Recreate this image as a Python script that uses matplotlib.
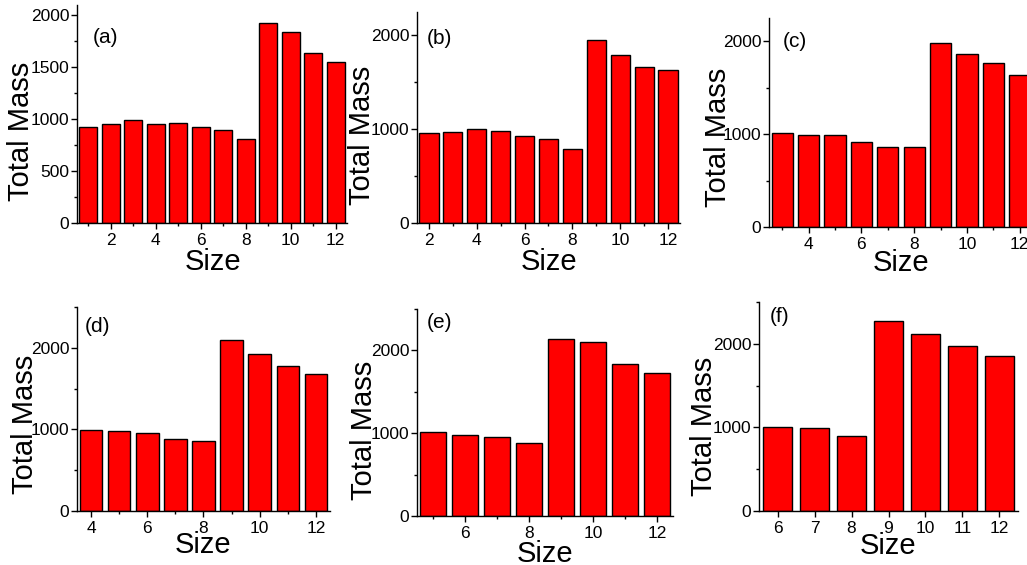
import matplotlib.pyplot as plt
from matplotlib.ticker import MultipleLocator

plt.rcParams['font.family'] = ['Liberation Sans', 'DejaVu Sans']

# bar heights
labels = ['(a)', '(b)', '(c)', '(d)', '(e)', '(f)']
sizes_a = [1, 2, 3, 4, 5, 6, 7, 8, 9, 10, 11, 12]
mass_a = [923, 955, 994, 952, 965, 926, 900, 810, 1929, 1836, 1640, 1553]
sizes_b = [2, 3, 4, 5, 6, 7, 8, 9, 10, 11, 12]
mass_b = [956, 970, 998, 980, 924, 899, 793, 1954, 1795, 1664, 1632]
sizes_c = [3, 4, 5, 6, 7, 8, 9, 10, 11, 12]
mass_c = [1009, 995, 987, 916, 862, 858, 1986, 1860, 1763, 1641]
sizes_d = [4, 5, 6, 7, 8, 9, 10, 11, 12]
mass_d = [994, 986, 953, 879, 863, 2094, 1926, 1779, 1677]
sizes_e = [5, 6, 7, 8, 9, 10, 11, 12]
mass_e = [1012, 984, 952, 876, 2137, 2096, 1831, 1723]
sizes_f = [6, 7, 8, 9, 10, 11, 12]
mass_f = [1010, 998, 903, 2270, 2119, 1968, 1849]

sizes = [sizes_a, sizes_b, sizes_c, sizes_d, sizes_e, sizes_f]
masses = [mass_a, mass_b, mass_c, mass_d, mass_e, mass_f]

# layout: axes rect (pixels l, r, top, bottom), y max, y major step, x major step,
# label positions (axes fraction)
W, H = 1027, 565
rects = [(77, 347, 5, 223), (417, 680, 12, 223), (769, 1033, 18, 227),
         (77, 330, 307, 511), (417, 673, 309, 516), (759, 1018, 302, 511)]
ymax = [2100, 2250, 2250, 2500, 2500, 2500]
ystep = [500, 1000, 1000, 1000, 1000, 1000]
xstep = [2, 2, 2, 2, 2, 1]
tag_pos = [(0.059, 0.894), (0.038, 0.92), (0.053, 0.933),
           (0.032, 0.95), (0.039, 0.98), (0.042, 0.976)]
ylab_pos = [(-0.207, 0.422), (-0.209, 0.417), (-0.193, 0.431),
            (-0.206, 0.426), (-0.207, 0.415), (-0.212, 0.407)]
xlab_pos = [(0.504, -0.215), (0.502, -0.223), (0.5, -0.21),
            (0.498, -0.206), (0.5, -0.222), (0.498, -0.206)]

fig = plt.figure(figsize=(W / 100, H / 100), dpi=100)

for i in range(6):
    l, r, t, b = rects[i]
    ax = fig.add_axes([l / W, (H - b) / H, (r - l) / W, (b - t) / H])
    ax.bar(sizes[i], masses[i], width=0.8, color='#ff0000', edgecolor='black', linewidth=1)
    ax.set_xlim(sizes[i][0] - 0.5, 12.5)
    ax.set_ylim(0, ymax[i])
    ax.yaxis.set_major_locator(MultipleLocator(ystep[i]))
    ax.yaxis.set_minor_locator(MultipleLocator(ystep[i] / 2))
    ax.xaxis.set_major_locator(MultipleLocator(xstep[i]))
    if xstep[i] == 2:
        ax.xaxis.set_minor_locator(MultipleLocator(1))
    for s in ['top', 'right']:
        ax.spines[s].set_visible(False)
    for s in ['left', 'bottom']:
        ax.spines[s].set_linewidth(1)
    ax.tick_params(which='major', direction='out', length=4, width=1, labelsize=12.5, pad=1.5)
    ax.tick_params(which='minor', direction='out', length=2.5, width=1)
    ax.tick_params(axis='x', pad=3)
    ax.text(tag_pos[i][0], tag_pos[i][1], labels[i], transform=ax.transAxes,
            ha='left', va='top', fontsize=15)
    ax.text(ylab_pos[i][0], ylab_pos[i][1], 'Total Mass', transform=ax.transAxes,
            rotation=90, ha='center', va='center', fontsize=21)
    ax.text(xlab_pos[i][0], xlab_pos[i][1], 'Size', transform=ax.transAxes,
            ha='center', va='baseline', fontsize=21)

fig.savefig('out.png', dpi=100)
